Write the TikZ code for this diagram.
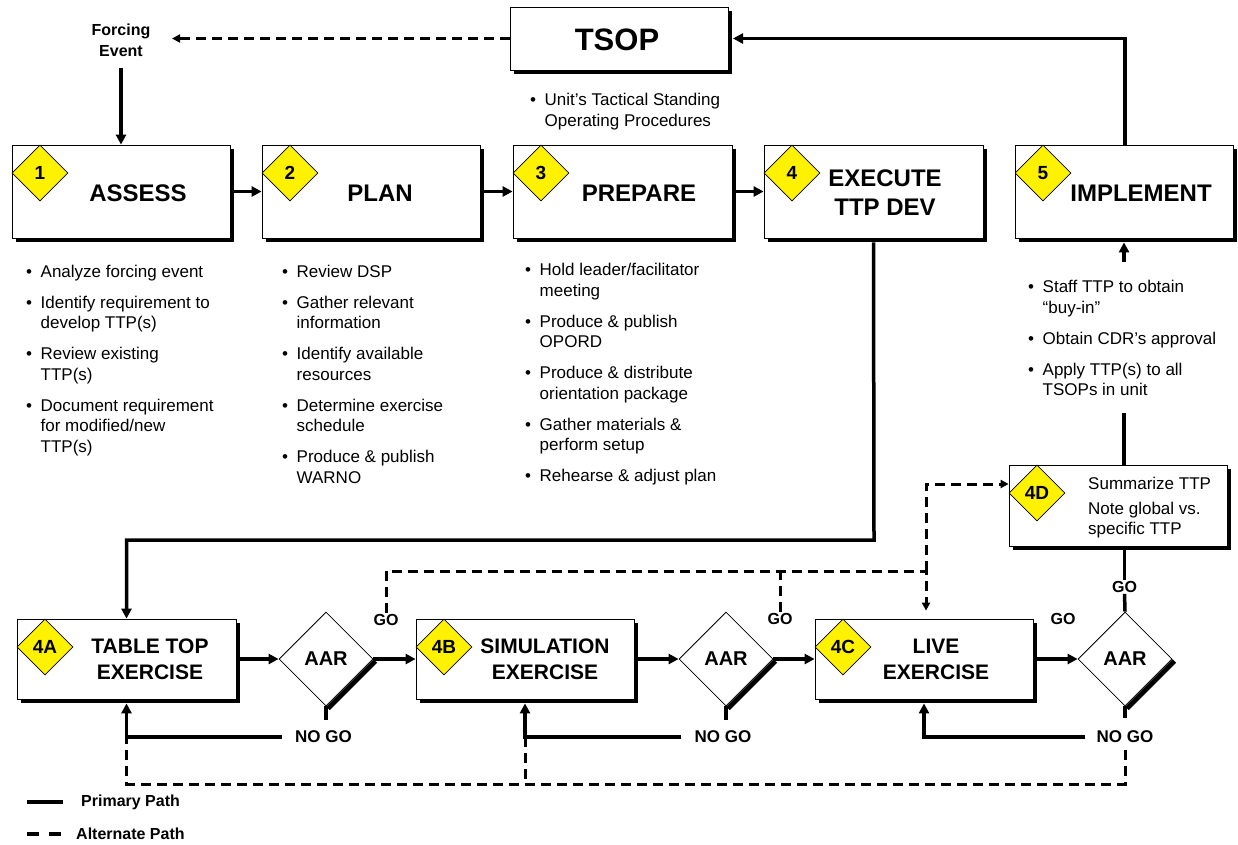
\documentclass[tikz,border=0pt]{standalone}
\usepackage{fontspec}
\setmainfont{Liberation Sans}
\usetikzlibrary{arrows.meta,shapes.geometric,shadows,calc}
\newcommand\bul{\makebox[14.5pt][l]{\textbullet}}
\newcommand\cnt{\hspace*{14.5pt}}
\begin{document}
\begin{tikzpicture}[x=1pt,y=-1pt,
  box/.style={draw=black,line width=0.8pt,fill=white,rectangle,inner sep=0pt,
    drop shadow={shadow xshift=4pt,shadow yshift=-4pt,fill=black,opacity=1}},
  badge/.style={diamond,draw=black,line width=0.6pt,fill=yellow,minimum width=56pt,
    minimum height=56pt,inner sep=0pt,font=\fontsize{19}{19}\selectfont\bfseries},
  aar/.style={diamond,draw=black,line width=0.8pt,fill=white,minimum width=94pt,
    minimum height=94pt,inner sep=0pt,font=\fontsize{20}{20}\selectfont\bfseries},
  title/.style={font=\fontsize{24}{29}\selectfont\bfseries,align=center,inner sep=0pt},
  sub/.style={font=\fontsize{21}{26}\selectfont\bfseries,align=center,inner sep=0pt},
  lst/.style={font=\fontsize{17}{20.5}\selectfont,align=left,inner sep=0pt,anchor=north west},
  lbl/.style={font=\fontsize{16}{21}\selectfont\bfseries,inner sep=1pt,align=center},
  nogo/.style={font=\fontsize{17}{17}\selectfont\bfseries,inner sep=1pt},
  prim/.style={line width=3.5pt},
  alt/.style={line width=3pt,dash pattern=on 10pt off 6pt},
  parr/.style={-{Triangle[length=10pt,width=10pt]}},
  aarr/.style={-{Triangle[length=8pt,width=8pt]}}]
\useasboundingbox (0,0) rectangle (1238,844);

% ---- top row ----
\node[box,minimum width=218pt,minimum height=63pt] (tsop) at (619,38.5) {};
\node[font=\fontsize{31}{31}\selectfont\bfseries,inner sep=0pt] (tsopt) at (617,40) {TSOP};
\node[lbl] (fe) at (121,40) {Forcing\\Event};
\coordinate (fer) at (172,38.5);

\node[box,minimum width=218pt,minimum height=93pt] (assess) at (121,191.5) {};
\node[box,minimum width=218pt,minimum height=93pt] (plan) at (371,191.5) {};
\node[box,minimum width=219pt,minimum height=93pt] (prep) at (622.5,191.5) {};
\node[box,minimum width=219pt,minimum height=93pt] (exec) at (873.5,191.5) {};
\node[box,minimum width=218pt,minimum height=93pt] (impl) at (1124,191.5) {};

\node[title] (assesst) at (138,193) {ASSESS};
\node[title] (plant) at (380,193) {PLAN};
\node[title] (prept) at (639,193) {PREPARE};
\node[title] (exect) at (885,192.5) {EXECUTE\\TTP DEV};
\node[title] (implt) at (1141,193) {IMPLEMENT};

\node[badge] (b1) at (40,173) {1};
\node[badge] (b2) at (290,173) {2};
\node[badge] (b3) at (541,173) {3};
\node[badge] (b4) at (792,173) {4};
\node[badge] (b5) at (1043,173) {5};

% ---- lists ----
\node[lst] (tsopl) at (530,93) {\bul Unit’s Tactical Standing\\\cnt Operating Procedures};
\node[lst] (al) at (26,265) {\bul Analyze forcing event\\[10pt]
\bul Identify requirement to\\\cnt develop TTP(s)\\[10.5pt]
\bul Review existing\\\cnt TTP(s)\\[10.5pt]
\bul Document requirement\\\cnt for modified/new\\\cnt TTP(s)};
\node[lst] (pl) at (282,265) {\bul Review DSP\\[10pt]
\bul Gather relevant\\\cnt information\\[10.5pt]
\bul Identify available\\\cnt resources\\[10.5pt]
\bul Determine exercise\\\cnt schedule\\[10.5pt]
\bul Produce \& publish\\\cnt WARNO};
\node[lst] (prl) at (525,263) {\bul Hold leader/facilitator\\\cnt meeting\\[10.5pt]
\bul Produce \& publish\\\cnt OPORD\\[10.5pt]
\bul Produce \& distribute\\\cnt orientation package\\[10.5pt]
\bul Gather materials \&\\\cnt perform setup\\[10.5pt]
\bul Rehearse \& adjust plan};
\node[lst] (il) at (1028,280) {\bul Staff TTP to obtain\\\cnt “buy-in”\\[10.5pt]
\bul Obtain CDR’s approval\\[10.5pt]
\bul Apply TTP(s) to all\\\cnt TSOPs in unit};

% ---- 4D ----
\node[box,minimum width=218pt,minimum height=81pt] (sum) at (1118,505.5) {};
\node[badge] (b4d) at (1037,493) {4D};
\node[lst] (sumt) at (1088,477) {Summarize TTP\\[4pt]Note global vs.\\specific TTP};

% ---- bottom row ----
\node[box,minimum width=219pt,minimum height=80pt] (tta) at (126.5,659) {};
\node[box,minimum width=218pt,minimum height=80pt] (sim) at (525,659) {};
\node[box,minimum width=218pt,minimum height=80pt] (live) at (924,659) {};
\node[sub] (ttat) at (150,659.5) {TABLE TOP\\EXERCISE};
\node[sub] (simt) at (545,659.5) {SIMULATION\\EXERCISE};
\node[sub] (livet) at (936,659.5) {LIVE\\EXERCISE};
\node[badge] (b4a) at (45,647) {4A};
\node[badge] (b4b) at (444,647) {4B};
\node[badge] (b4c) at (843,647) {4C};

\node[aar] (aar1) at (326,659) {AAR};
\node[aar] (aar2) at (726,659) {AAR};
\node[aar] (aar3) at (1125,659) {AAR};
\foreach \a in {aar1,aar2,aar3}{
  \draw[line width=5pt] ([shift={(2,2)}]\a.east) -- ([shift={(2,2)}]\a.south);
}

\node[nogo] (ng1) at (323.5,737) {NO GO};
\node[nogo] (ng2) at (723,737) {NO GO};
\node[nogo] (ng3) at (1125,737) {NO GO};
\node[lbl] (go1) at (386,620) {GO};
\node[lbl] (go2) at (780,619) {GO};
\node[lbl] (go3) at (1063,619) {GO};
\node[lbl] (go4) at (1124.5,587) {GO};

% ---- coordinates ----
\coordinate (e1) at (874,540);
\coordinate (i1) at (1124,413);
\coordinate (i2) at (1124,262);
\coordinate (i3) at ([yshift=-4pt]impl.south);
\coordinate (t1) at (1125,38.5);
\coordinate (t2) at (733,38.5);
\coordinate (s3) at ([yshift=-4pt]sum.south);
\coordinate (j1) at (126.5,737);
\coordinate (j2) at (525,737);
\coordinate (dl) at (126.5,784);
\coordinate (k) at (926,571);
\coordinate (m) at (926,484);

% ---- primary connectors ----
\draw[prim,parr] ([yshift=-10pt]fe.south) -- (assess.north);
\draw[prim,parr] ([xshift=4pt]assess.east) -- (plan.west);
\draw[prim,parr] ([xshift=4pt]plan.east) -- (prep.west);
\draw[prim,parr] ([xshift=4pt]prep.east) -- (exec.west);
\draw[prim,parr] ([yshift=-4pt]exec.south) -- (e1) -| (tta.north);
\draw[prim] (sum.north -| i1) -- (i1);
\draw[prim,parr] (i2) -- (i2 |- i3);
\draw[prim,parr] (impl.north -| t1) -- (t1) -- (t2);
\draw[prim] (aar3.north) -- (go4.south);
\draw[prim] (go4.north) -- (go4.north |- s3);

\draw[prim,parr] ([xshift=4pt]tta.east) -- (aar1.west);
\draw[prim,parr] (aar1.east) -- (sim.west);
\draw[prim,parr] ([xshift=4pt]sim.east) -- (aar2.west);
\draw[prim,parr] (aar2.east) -- (live.west);
\draw[prim,parr] ([xshift=4pt]live.east) -- (aar3.west);

\draw[prim] (aar1.south) -- ++(0,14);
\draw[prim] (aar2.south) -- ++(0,14);
\draw[prim] (aar3.south) -- ++(0,12);
\draw[prim,parr] ([xshift=-12pt]ng1.west) -| ([yshift=-4pt]tta.south);
\draw[prim,parr] ([xshift=-12pt]ng2.west) -| ([yshift=-4pt]sim.south);
\draw[prim,parr] ([xshift=-10pt]ng3.west) -| ([yshift=-4pt]live.south);

% ---- alternate connectors ----
\draw[alt,aarr] (tsop.west) -- (fer);
\draw[alt] ([yshift=-6pt]ng3.south) |- (dl) -- (j1);
\draw[alt] (j2) -- (j2 |- dl);
\draw[alt,aarr,shorten >=8pt] (go1.north) |- (k) -- (k |- live.north);
\draw[alt] (go2.north) -- (go2.north |- k);
\draw[alt,aarr] (k) -- (m) -- (m -| sum.west);

% ---- legend ----
\coordinate (lg1) at (27,802);
\coordinate (lg2) at (63,802);
\coordinate (lg3) at (27,834);
\coordinate (lg4) at (63,834);
\draw[prim] (lg1) -- (lg2);
\draw[line width=3.5pt,dash pattern=on 12pt off 10pt] (lg3) -- (lg4);
\node[nogo,anchor=west,font=\fontsize{16}{16}\selectfont\bfseries] (lp) at (80,802) {Primary Path};
\node[nogo,anchor=west,font=\fontsize{16}{16}\selectfont\bfseries] (la) at (75,834) {Alternate Path};
\end{tikzpicture}
\end{document}
